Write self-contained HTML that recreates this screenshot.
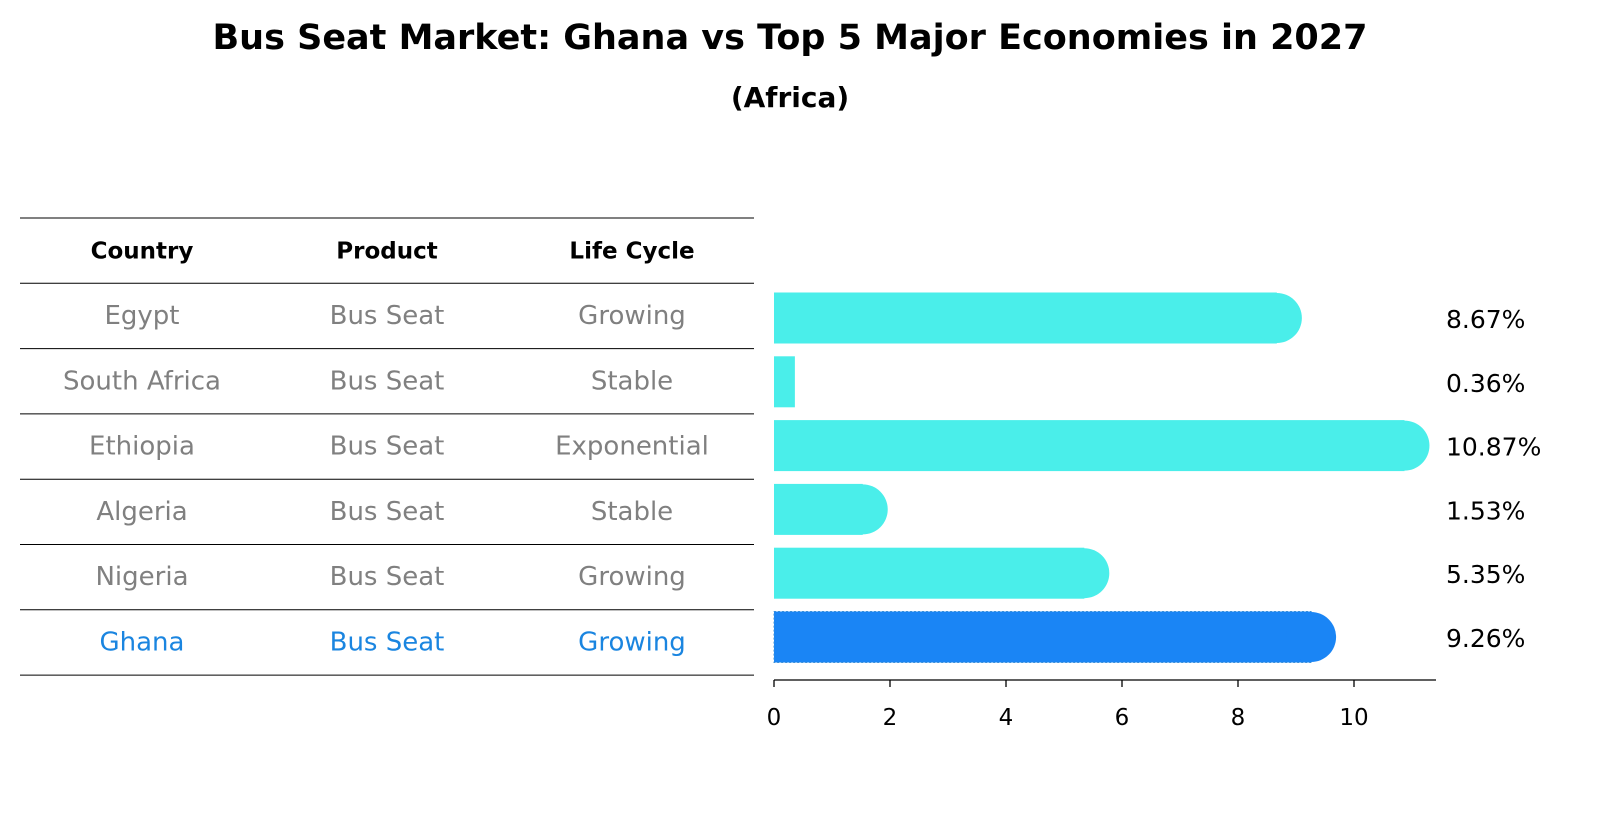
<!DOCTYPE html>
<html><head><meta charset="utf-8"><style>
body{margin:0;background:#fff;font-family:"DejaVu Sans","Liberation Sans",sans-serif;}
#wrap{position:relative;width:1604px;height:823px;overflow:hidden;}
</style></head><body>
<div id="wrap">
<svg id="svg" width="1604" height="823" xmlns="http://www.w3.org/2000/svg">
<text x="790" y="49" text-anchor="middle" font-size="35" font-weight="bold" font-family="DejaVu Sans, sans-serif">Bus Seat Market: Ghana vs Top 5 Major Economies in 2027</text>
<text x="790" y="107" text-anchor="middle" font-size="28" font-weight="bold" font-family="DejaVu Sans, sans-serif">(Africa)</text>
<g id="table"></g>
<g id="bars"></g>
</svg>
</div>
<script>
const countries=["Egypt","South Africa","Ethiopia","Algeria","Nigeria","Ghana"];
const products=["Bus Seat","Bus Seat","Bus Seat","Bus Seat","Bus Seat","Bus Seat"];
const lifecycles=["Growing","Stable","Exponential","Stable","Growing","Growing"];
const values=[8.67,0.36,10.87,1.53,5.35,9.26];
const tickLabels=[0,2,4,6,8,10];
const NS="http://www.w3.org/2000/svg";
const tbl=document.getElementById('table');
const bars=document.getElementById('bars');
function mk(tag,attrs,parent,txt){const e=document.createElementNS(NS,tag);for(const k in attrs)e.setAttribute(k,attrs[k]);if(txt!==undefined)e.textContent=txt;parent.appendChild(e);return e;}
const x0=774,scale=58;
function xs(v){return x0+v*scale;}
const rowTop=218,rowH=65.3;
function rowY(i){return rowTop+rowH*(i+1)+rowH/2;}
function barY(i){return 318+i*63.8;}
const colX=[142,387,632];
for(let i=0;i<=countries.length+1;i++){
  const y=rowTop+rowH*i;
  const l=mk('line',{x1:20,x2:754,y1:y,y2:y,stroke:'#000','stroke-width':1},tbl);
  
  
}
["Country","Product","Life Cycle"].forEach((h,j)=>{
  const t=mk('text',{x:colX[j],y:rowTop+rowH/2+8,'text-anchor':'middle','font-size':23,'font-weight':'bold','font-family':'DejaVu Sans, sans-serif'},tbl,h);
  
  
});
countries.forEach((c,i)=>{
  const col=c==="Ghana"?"#1a85e0":"#808080";
  [c,products[i],lifecycles[i]].forEach((v,j)=>{
    const t=mk('text',{x:colX[j],y:rowY(i)+8,'text-anchor':'middle','font-size':26,fill:col,'font-family':'DejaVu Sans, sans-serif'},tbl,v);
    
    
  });
});
const bh=51,r=25;
values.forEach((v,i)=>{
  const isG=countries[i]==="Ghana";
  const col=isG?"#1a85f5":"#4aeeea";
  const cy=barY(i);
  const w=xs(v)-x0;
  const b=mk('rect',{x:x0,y:cy-bh/2,width:w,height:bh,fill:col},bars);
  
  
  if(isG){b.setAttribute('stroke','#3b8fd8');b.setAttribute('stroke-dasharray','2 2');}
  if(w>r){
    const c=mk('circle',{cx:xs(v),cy:cy,r:r,fill:col},bars);
    
    
  }
  const t=mk('text',{x:1446,y:cy+10,'font-size':25,'font-family':'DejaVu Sans, sans-serif'},bars,v.toFixed(2)+'%');
  
  
});
const ax=mk('line',{x1:x0,x2:1436,y1:680,y2:680,stroke:'#000','stroke-width':1.3},bars);


tickLabels.forEach(v=>{
  const tk=mk('line',{x1:xs(v),x2:xs(v),y1:680,y2:687,stroke:'#000','stroke-width':1.3},bars);
  
  
  const t=mk('text',{x:xs(v),y:725,'text-anchor':'middle','font-size':23,'font-family':'DejaVu Sans, sans-serif'},bars,String(v));
  
  
});
</script>
</body></html>
